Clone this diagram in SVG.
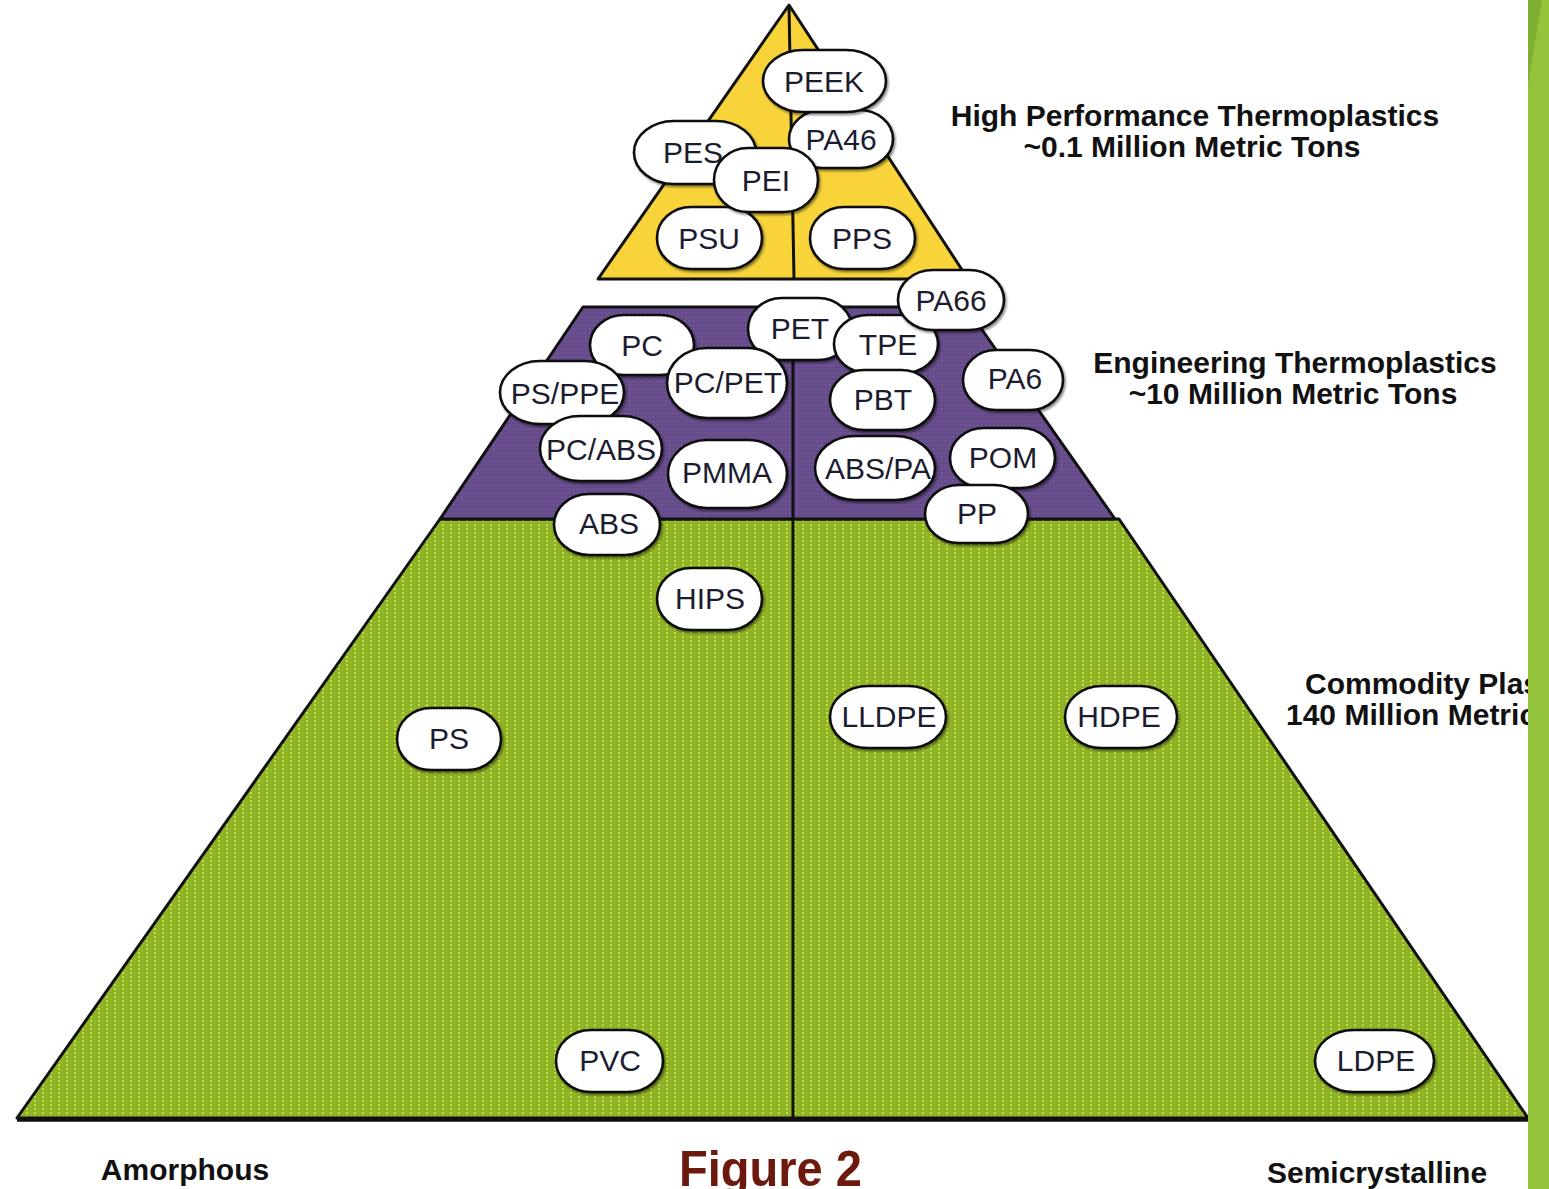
<svg xmlns="http://www.w3.org/2000/svg" width="1549" height="1189" viewBox="0 0 1549 1189">
<style>
.pill{fill:#ffffff;stroke:#111111;stroke-width:2.6;filter:url(#sh)}
.nt{font-family:"Liberation Sans",Arial,sans-serif;font-size:30px;fill:#1c1c30;text-anchor:middle}
.lb{font-family:"Liberation Sans",Arial,sans-serif;font-size:30px;font-weight:bold;fill:#111111;text-anchor:middle}
.edge{fill:none;stroke:#111111;stroke-width:3}
</style>
<defs>
<pattern id="gp" width="8" height="4" patternUnits="userSpaceOnUse">
<rect width="8" height="4" fill="#8fb327"/>
<rect x="2" y="0" width="2" height="2" fill="#c3e040"/>
<rect x="6" y="2" width="1" height="1" fill="#a6c931"/>
</pattern>
<pattern id="pp" width="4" height="4" patternUnits="userSpaceOnUse">
<rect width="4" height="4" fill="#654a8a"/>
<rect x="1" y="0" width="1" height="2" fill="#7c63a0"/>
<rect x="3" y="2" width="1" height="1" fill="#72589a"/>
</pattern>
<filter id="sh" x="-10%" y="-10%" width="125%" height="130%">
<feDropShadow dx="1.5" dy="2" stdDeviation="1" flood-color="#000" flood-opacity="0.45"/>
</filter>
<clipPath id="cl"><rect x="0" y="0" width="1528" height="1189"/></clipPath>
</defs>
<rect width="1549" height="1189" fill="#ffffff"/>

<g id="tiers">
<polygon id="tier-green" points="440,519 1119,519 1528,1118 17,1118" fill="url(#gp)" stroke="#111" stroke-width="3" stroke-linejoin="round"/>
<line x1="17" y1="1120" x2="1528" y2="1120" stroke="#111" stroke-width="3.5"/>
<polygon id="tier-purple" points="583,307 966,307 1115,519 440,519" fill="url(#pp)" stroke="#111" stroke-width="3" stroke-linejoin="round"/>
<polygon id="tier-yellow" points="789,5 968,279 598,279" fill="#f8d43a" stroke="#111" stroke-width="3" stroke-linejoin="round"/>
</g>

<g id="connectors">
<line x1="789" y1="6" x2="794" y2="279" class="edge"/>
<line x1="793" y1="340" x2="793" y2="519" class="edge"/>
<line x1="793" y1="519" x2="793" y2="1120" class="edge"/>
</g>

<g id="n-PSU"><rect class="pill" x="657" y="207" width="105" height="62" rx="34" ry="31"/><text class="nt" x="709" y="249">PSU</text></g>
<g id="n-PPS"><rect class="pill" x="810" y="207" width="105" height="62" rx="34" ry="31"/><text class="nt" x="862" y="249">PPS</text></g>
<g id="n-PA46"><rect class="pill" x="789" y="110" width="104" height="58" rx="34" ry="29"/><text class="nt" x="841" y="150">PA46</text></g>
<g id="n-PEEK"><rect class="pill" x="763" y="50" width="123" height="62" rx="40" ry="31"/><text class="nt" x="824" y="92">PEEK</text></g>
<g id="n-PES"><rect class="pill" x="634" y="121" width="122" height="63" rx="40" ry="31.5"/><text class="nt" x="693" y="163">PES</text></g>
<g id="n-PEI"><rect class="pill" x="714" y="148" width="104" height="64" rx="34" ry="32"/><text class="nt" x="766" y="191">PEI</text></g>

<g id="n-PC"><rect class="pill" x="590" y="315" width="104" height="60" rx="34" ry="30"/><text class="nt" x="642" y="356">PC</text></g>
<g id="n-PSPPE"><rect class="pill" x="500" y="361" width="124" height="63" rx="40" ry="31.5"/><text class="nt" x="565" y="404">PS/PPE</text></g>
<g id="n-PET"><rect class="pill" x="748" y="298" width="104" height="62" rx="34" ry="31"/><text class="nt" x="800" y="339">PET</text></g>
<g id="n-PCPET"><rect class="pill" x="667" y="348" width="120" height="70" rx="40" ry="35"/><text class="nt" x="728" y="393">PC/PET</text></g>
<g id="n-TPE"><rect class="pill" x="834" y="315" width="104" height="58" rx="34" ry="29"/><text class="nt" x="888" y="355">TPE</text></g>
<g id="n-PA66"><rect class="pill" x="898" y="270" width="106" height="60" rx="35" ry="30"/><text class="nt" x="951" y="311">PA66</text></g>
<g id="n-PBT"><rect class="pill" x="830" y="370" width="105" height="60" rx="34" ry="30"/><text class="nt" x="883" y="410">PBT</text></g>
<g id="n-PA6"><rect class="pill" x="963" y="350" width="100" height="60" rx="33" ry="30"/><text class="nt" x="1015" y="389">PA6</text></g>
<g id="n-PCABS"><rect class="pill" x="540" y="416" width="122" height="65" rx="40" ry="32.5"/><text class="nt" x="601" y="460">PC/ABS</text></g>
<g id="n-PMMA"><rect class="pill" x="668" y="440" width="119" height="68" rx="39" ry="34"/><text class="nt" x="727" y="483">PMMA</text></g>
<g id="n-ABSPA"><rect class="pill" x="815" y="436" width="120" height="64" rx="40" ry="32"/><text class="nt" x="878" y="479">ABS/PA</text></g>
<g id="n-POM"><rect class="pill" x="950" y="428" width="105" height="60" rx="34" ry="30"/><text class="nt" x="1003" y="468">POM</text></g>
<g id="n-PP"><rect class="pill" x="925" y="485" width="103" height="58" rx="34" ry="29"/><text class="nt" x="977" y="524">PP</text></g>
<g id="n-ABS"><rect class="pill" x="554" y="494" width="106" height="61" rx="35" ry="30.5"/><text class="nt" x="609" y="534">ABS</text></g>

<g id="n-HIPS"><rect class="pill" x="657" y="568" width="105" height="62" rx="34" ry="31"/><text class="nt" x="710" y="609">HIPS</text></g>
<g id="n-PS"><rect class="pill" x="397" y="708" width="104" height="62" rx="34" ry="31"/><text class="nt" x="449" y="749">PS</text></g>
<g id="n-LLDPE"><rect class="pill" x="830" y="686" width="116" height="62" rx="38" ry="31"/><text class="nt" x="889" y="727">LLDPE</text></g>
<g id="n-HDPE"><rect class="pill" x="1065" y="686" width="112" height="62" rx="37" ry="31"/><text class="nt" x="1119" y="727">HDPE</text></g>
<g id="n-PVC"><rect class="pill" x="556" y="1030" width="107" height="62" rx="35" ry="31"/><text class="nt" x="610" y="1071">PVC</text></g>
<g id="n-LDPE"><rect class="pill" x="1315" y="1030" width="119" height="62" rx="39" ry="31"/><text class="nt" x="1376" y="1071">LDPE</text></g>

<g id="labels">
<text class="lb" x="1195" y="126">High Performance Thermoplastics</text>
<text class="lb" x="1192" y="157">~0.1 Million Metric Tons</text>
<text class="lb" x="1295" y="373">Engineering Thermoplastics</text>
<text class="lb" x="1293" y="404">~10 Million Metric Tons</text>
<g clip-path="url(#cl)">
<text class="lb" x="1305" y="694" style="text-anchor:start">Commodity Plastics</text>
<text class="lb" x="1286" y="725" style="text-anchor:start">140 Million Metric Tons</text>
</g>
<text class="lb" x="185" y="1180">Amorphous</text>
<text class="lb" x="1377" y="1183">Semicrystalline</text>
<text x="679" y="1186" textLength="183" lengthAdjust="spacingAndGlyphs" style="font-family:'Liberation Sans',Arial,sans-serif;font-size:50px;font-weight:bold;fill:#6d1a0e">Figure 2</text>
</g>

<g id="sidebar">
<rect x="1528" y="0" width="21" height="1189" fill="#94c43b"/>
<polygon points="1528,0 1542,0 1528,85" fill="#7fb031"/>
</g>
</svg>
